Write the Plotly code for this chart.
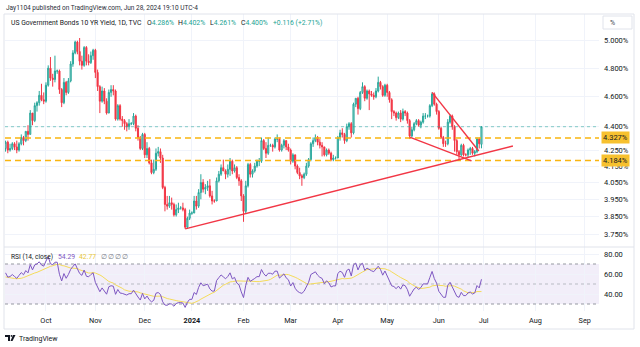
import math
import numpy as np
import pandas as pd
import plotly.graph_objects as go

# ---------------- data (daily OHLC, US10Y, TVC) ----------------
dates = pd.bdate_range("2023-09-06", "2024-06-28")

opens = [
    # Sep 2023
    4.26, 4.30, 4.25, 4.26, 4.29, 4.27, 4.25, 4.29, 4.33, 4.31, 4.37, 4.35, 4.49, 4.44, 4.54, 4.56, 4.61, 4.58,
    # Oct
    4.57, 4.68, 4.80, 4.73, 4.72, 4.78, 4.78, 4.65, 4.56, 4.70, 4.63, 4.71, 4.83, 4.91, 4.99, 4.92, 4.85, 4.82, 4.95, 4.85, 4.84, 4.89,
    # Nov
    4.93, 4.77, 4.67, 4.57, 4.64, 4.57, 4.49, 4.63, 4.65, 4.64, 4.45, 4.54, 4.45, 4.44, 4.42, 4.40, 4.42, 4.42, 4.47, 4.39, 4.33, 4.26,
    # Dec
    4.35, 4.22, 4.26, 4.17, 4.11, 4.13, 4.23, 4.24, 4.20, 4.02, 3.92, 3.91, 3.93, 3.92, 3.86, 3.89, 3.90, 3.90, 3.89, 3.79, 3.84,
    # Jan 2024
    3.87, 3.87, 3.94, 3.91, 3.99, 4.05, 4.01, 4.02, 4.03, 3.97, 3.94, 3.94, 4.06, 4.10, 4.14, 4.12, 4.10, 4.13, 4.18, 4.12, 4.14, 4.08, 4.06,
    # Feb
    3.97, 3.88, 4.03, 4.16, 4.10, 4.12, 4.15, 4.18, 4.18, 4.31, 4.26, 4.23, 4.28, 4.28, 4.27, 4.32, 4.32, 4.25, 4.28, 4.31, 4.27,
    # Mar
    4.25, 4.18, 4.22, 4.15, 4.11, 4.09, 4.08, 4.10, 4.15, 4.19, 4.29, 4.31, 4.33, 4.30, 4.28, 4.27, 4.22, 4.25, 4.23, 4.19, 4.20,
    # Apr
    4.20, 4.33, 4.36, 4.35, 4.31, 4.40, 4.42, 4.36, 4.55, 4.59, 4.52, 4.63, 4.67, 4.59, 4.64, 4.62, 4.61, 4.60, 4.64, 4.70, 4.67, 4.61,
    # May
    4.68, 4.63, 4.58, 4.50, 4.49, 4.46, 4.49, 4.45, 4.50, 4.49, 4.44, 4.34, 4.38, 4.42, 4.44, 4.41, 4.43, 4.47, 4.47, 4.47, 4.54, 4.62, 4.55,
    # Jun
    4.50, 4.39, 4.33, 4.29, 4.29, 4.43, 4.47, 4.40, 4.31, 4.24, 4.22, 4.28, 4.22, 4.22, 4.25, 4.26, 4.23, 4.24, 4.32, 4.286,
]
highs = [
    4.31, 4.31, 4.29, 4.30, 4.30, 4.31, 4.30, 4.35, 4.34, 4.37, 4.41, 4.51, 4.49, 4.56, 4.57, 4.64, 4.69, 4.63,
    4.70, 4.82, 4.88, 4.76, 4.89, 4.79, 4.79, 4.66, 4.73, 4.71, 4.73, 4.85, 4.93, 5.00, 5.00, 5.02, 4.89, 4.96, 4.96, 4.90, 4.92, 4.94,
    4.94, 4.79, 4.68, 4.67, 4.66, 4.59, 4.65, 4.68, 4.68, 4.65, 4.55, 4.55, 4.47, 4.45, 4.43, 4.45, 4.43, 4.49, 4.48, 4.41, 4.34, 4.36,
    4.36, 4.30, 4.27, 4.19, 4.19, 4.26, 4.27, 4.26, 4.22, 4.03, 3.97, 3.97, 3.96, 3.93, 3.92, 3.93, 3.91, 3.93, 3.90, 3.85, 3.89,
    3.88, 3.97, 3.97, 4.01, 4.10, 4.07, 4.04, 4.06, 4.07, 4.00, 3.95, 4.08, 4.12, 4.16, 4.19, 4.13, 4.16, 4.20, 4.19, 4.16, 4.15, 4.10, 4.07,
    3.98, 4.06, 4.17, 4.17, 4.13, 4.17, 4.19, 4.20, 4.33, 4.32, 4.30, 4.33, 4.29, 4.29, 4.33, 4.35, 4.33, 4.29, 4.32, 4.31, 4.29,
    4.26, 4.23, 4.22, 4.16, 4.14, 4.10, 4.11, 4.17, 4.20, 4.30, 4.33, 4.35, 4.34, 4.32, 4.30, 4.27, 4.26, 4.26, 4.24, 4.22, 4.21,
    4.34, 4.38, 4.39, 4.36, 4.42, 4.43, 4.43, 4.56, 4.59, 4.60, 4.64, 4.70, 4.68, 4.65, 4.65, 4.64, 4.63, 4.66, 4.74, 4.71, 4.68, 4.69,
    4.69, 4.64, 4.59, 4.51, 4.50, 4.50, 4.51, 4.52, 4.51, 4.50, 4.45, 4.40, 4.43, 4.45, 4.45, 4.44, 4.49, 4.49, 4.48, 4.55, 4.63, 4.63, 4.56,
    4.51, 4.40, 4.34, 4.31, 4.45, 4.48, 4.48, 4.41, 4.32, 4.25, 4.29, 4.29, 4.23, 4.26, 4.27, 4.27, 4.25, 4.33, 4.33, 4.402,
]
lows = [
    4.24, 4.23, 4.24, 4.25, 4.25, 4.23, 4.24, 4.28, 4.28, 4.30, 4.31, 4.35, 4.41, 4.43, 4.50, 4.54, 4.57, 4.55,
    4.56, 4.67, 4.71, 4.67, 4.70, 4.76, 4.62, 4.53, 4.55, 4.61, 4.62, 4.70, 4.81, 4.90, 4.90, 4.82, 4.79, 4.81, 4.82, 4.82, 4.83, 4.86,
    4.73, 4.64, 4.49, 4.56, 4.55, 4.48, 4.49, 4.60, 4.61, 4.44, 4.44, 4.44, 4.40, 4.38, 4.37, 4.38, 4.41, 4.41, 4.37, 4.31, 4.25, 4.25,
    4.20, 4.20, 4.16, 4.10, 4.10, 4.12, 4.21, 4.17, 4.01, 3.88, 3.89, 3.90, 3.89, 3.85, 3.85, 3.87, 3.89, 3.88, 3.78, 3.78, 3.83,
    3.86, 3.87, 3.89, 3.90, 3.95, 3.99, 3.98, 4.00, 3.96, 3.92, 3.93, 3.94, 4.05, 4.09, 4.12, 4.07, 4.08, 4.09, 4.10, 4.11, 4.07, 4.03, 3.94,
    3.82, 3.87, 4.02, 4.08, 4.08, 4.11, 4.14, 4.15, 4.17, 4.25, 4.20, 4.22, 4.27, 4.24, 4.26, 4.30, 4.24, 4.24, 4.26, 4.25, 4.24,
    4.16, 4.17, 4.13, 4.10, 4.07, 4.03, 4.07, 4.09, 4.14, 4.18, 4.27, 4.30, 4.28, 4.26, 4.21, 4.21, 4.21, 4.22, 4.18, 4.18, 4.19,
    4.20, 4.31, 4.33, 4.29, 4.30, 4.38, 4.33, 4.35, 4.53, 4.48, 4.51, 4.62, 4.57, 4.58, 4.51, 4.60, 4.58, 4.59, 4.63, 4.65, 4.60, 4.60,
    4.60, 4.56, 4.45, 4.47, 4.44, 4.45, 4.43, 4.44, 4.47, 4.42, 4.32, 4.33, 4.37, 4.41, 4.40, 4.39, 4.42, 4.45, 4.46, 4.46, 4.53, 4.54, 4.48,
    4.38, 4.32, 4.27, 4.27, 4.28, 4.42, 4.38, 4.24, 4.22, 4.19, 4.21, 4.21, 4.21, 4.20, 4.22, 4.22, 4.21, 4.23, 4.26, 4.261,
]
closes = [
    4.30, 4.25, 4.26, 4.29, 4.27, 4.25, 4.29, 4.33, 4.31, 4.37, 4.35, 4.49, 4.44, 4.54, 4.56, 4.61, 4.58, 4.57,
    4.68, 4.80, 4.73, 4.72, 4.78, 4.78, 4.65, 4.56, 4.70, 4.63, 4.71, 4.83, 4.91, 4.99, 4.92, 4.85, 4.82, 4.95, 4.85, 4.84, 4.89, 4.93,
    4.77, 4.67, 4.57, 4.64, 4.57, 4.49, 4.63, 4.65, 4.64, 4.45, 4.54, 4.45, 4.44, 4.42, 4.40, 4.42, 4.42, 4.47, 4.39, 4.33, 4.26, 4.35,
    4.22, 4.26, 4.17, 4.11, 4.13, 4.23, 4.24, 4.20, 4.02, 3.92, 3.91, 3.93, 3.92, 3.86, 3.89, 3.90, 3.90, 3.89, 3.79, 3.84, 3.87,
    3.87, 3.94, 3.91, 3.99, 4.05, 4.01, 4.02, 4.03, 3.97, 3.94, 3.94, 4.06, 4.10, 4.14, 4.12, 4.10, 4.13, 4.18, 4.12, 4.14, 4.08, 4.06, 3.97,
    3.88, 4.03, 4.16, 4.10, 4.12, 4.15, 4.18, 4.18, 4.31, 4.26, 4.23, 4.28, 4.28, 4.27, 4.32, 4.32, 4.25, 4.28, 4.31, 4.27, 4.25,
    4.18, 4.22, 4.15, 4.11, 4.09, 4.08, 4.10, 4.15, 4.19, 4.29, 4.31, 4.33, 4.30, 4.28, 4.27, 4.22, 4.25, 4.23, 4.19, 4.20, 4.20,
    4.33, 4.36, 4.35, 4.31, 4.40, 4.42, 4.36, 4.55, 4.59, 4.52, 4.63, 4.67, 4.59, 4.64, 4.62, 4.61, 4.60, 4.64, 4.70, 4.67, 4.61, 4.68,
    4.63, 4.58, 4.50, 4.49, 4.46, 4.49, 4.45, 4.50, 4.49, 4.44, 4.34, 4.38, 4.42, 4.44, 4.41, 4.43, 4.47, 4.47, 4.47, 4.54, 4.62, 4.55, 4.50,
    4.39, 4.33, 4.29, 4.29, 4.43, 4.47, 4.40, 4.31, 4.24, 4.22, 4.28, 4.22, 4.22, 4.25, 4.26, 4.23, 4.24, 4.32, 4.29, 4.400,
]
# earlier daily closes (Jul 3 - Sep 5 2023), only used to warm up the RSI(14)
prior_closes = [
    3.86, 3.86, 3.94, 4.03, 4.06, 4.00, 3.97, 3.86, 3.76, 3.83, 3.81, 3.79, 3.75, 3.85, 3.84, 3.87, 3.89, 3.87, 4.01, 3.96, 3.96,
    4.05, 4.08, 4.18, 4.04, 4.09, 4.02, 4.01, 4.09, 4.16, 4.19, 4.21, 4.26, 4.30, 4.25, 4.34, 4.33, 4.19, 4.24, 4.24, 4.21, 4.12, 4.12, 4.09,
    4.18, 4.18, 4.26,
]

# drawn levels / trend lines (date, yield)
level_lines = [4.327, 4.184]
last_price = 4.400
trend_lines = [
    (("2023-12-27", 3.78), ("2024-07-18", 4.276)),
    (("2024-05-15", 4.333), ("2024-06-21 14:00", 4.182)),
    (("2024-05-29", 4.630), ("2024-06-26 19:00", 4.244)),
]

price_ticks = [3.75, 3.85, 3.95, 4.05, 4.15, 4.25, 4.40, 4.60, 4.80, 5.00]
rsi_ticks = [40, 60, 80]
month_ticks = ["2023-10-02", "2023-11-01", "2023-12-01", "2024-01-01", "2024-02-01", "2024-03-01",
               "2024-04-01", "2024-05-01", "2024-06-03", "2024-07-01", "2024-08-01", "2024-09-02"]
month_labels = ["Oct", "Nov", "Dec", "<b>2024</b>", "Feb", "Mar", "Apr", "May", "Jun", "Jul", "Aug", "Sep"]

# legend texts
legend_title = "US Government Bonds 10 YR Yield, 1D, TVC"
legend_ohlc = [("O", "4.286%"), ("H", "4.402%"), ("L", "4.261%"), ("C", "4.400%")]
legend_change = "+0.116 (+2.71%)"
rsi_legend = ("RSI (14, close)", "54.29", "42.77")

n = min(len(dates), len(opens), len(highs), len(lows), len(closes))
dates = dates[:n]

# ---------------- RSI(14) + its 14-SMA ----------------
allc = np.array(prior_closes + closes[:n], dtype=float)
d = np.diff(allc)
g = np.where(d > 0, d, 0.0)
l_ = np.where(d < 0, -d, 0.0)
per = 14
ag = np.full(len(d), np.nan)
al = np.full(len(d), np.nan)
ag[per - 1] = g[:per].mean()
al[per - 1] = l_[:per].mean()
for i in range(per, len(d)):
    ag[i] = (ag[i - 1] * (per - 1) + g[i]) / per
    al[i] = (al[i - 1] * (per - 1) + l_[i]) / per
rsi = 100 - 100 / (1 + ag / al)
rsi = np.concatenate([[np.nan], rsi])
rsi_ma = pd.Series(rsi).rolling(per).mean().values
k = len(prior_closes)
rsi_vis = rsi[k:k + n]
rsi_ma_vis = rsi_ma[k:k + n]

# ---------------- layout geometry (pixels) ----------------
W, H = 640, 347
ML, MR, MT, MB = 5, 41, 14, 36
PW, PH = W - ML - MR, H - MT - MB
SPLIT_PX = 247


def xp(x):
    return (x - ML) / PW


def yp(y):
    return (H - MB - y) / PH


split = yp(SPLIT_PX)
x_start, x_end = "2023-09-05 18:00", "2024-09-10 08:24"
FONT = "Roboto, Arial, sans-serif"
UP, DOWN = "#26a69a", "#f23645"

fig = go.Figure()

fig.add_trace(go.Candlestick(
    x=dates, open=opens[:n], high=highs[:n], low=lows[:n], close=closes[:n],
    increasing=dict(line=dict(color=UP, width=1), fillcolor="rgba(38,166,154,0.35)"),
    decreasing=dict(line=dict(color=DOWN, width=1), fillcolor=DOWN),
    whiskerwidth=0, showlegend=False, hoverinfo="skip", xaxis="x", yaxis="y"))

# current price dotted line
fig.add_trace(go.Scatter(x=[x_start, x_end], y=[last_price, last_price], mode="lines",
                         line=dict(color="rgba(38,166,154,0.55)", width=1, dash="dot"),
                         showlegend=False, hoverinfo="skip", xaxis="x", yaxis="y"))
for lv in level_lines:
    fig.add_trace(go.Scatter(x=[x_start, x_end], y=[lv, lv], mode="lines",
                             line=dict(color="#f9b50f", width=1.5, dash="6px,4px"),
                             showlegend=False, hoverinfo="skip", xaxis="x", yaxis="y"))
for (a, b) in trend_lines:
    fig.add_trace(go.Scatter(x=[a[0], b[0]], y=[a[1], b[1]], mode="lines",
                             line=dict(color=DOWN, width=1.4),
                             showlegend=False, hoverinfo="skip", xaxis="x", yaxis="y"))

# RSI pane
for lvl, dash, col in [(70, "3px,3px", "#9598a1"), (50, "3px,3px", "#b8bbc3"), (30, "3px,3px", "#9598a1")]:
    fig.add_trace(go.Scatter(x=[x_start, x_end], y=[lvl, lvl], mode="lines",
                             line=dict(color=col, width=1, dash=dash),
                             showlegend=False, hoverinfo="skip", xaxis="x", yaxis="y2"))
fig.add_trace(go.Scatter(x=dates, y=rsi_ma_vis, mode="lines", line=dict(color="#f5dc5a", width=1),
                         showlegend=False, hoverinfo="skip", xaxis="x", yaxis="y2"))
fig.add_trace(go.Scatter(x=dates, y=rsi_vis, mode="lines", line=dict(color="#7e57c2", width=1),
                         showlegend=False, hoverinfo="skip", xaxis="x", yaxis="y2"))

shapes = [
    dict(type="rect", xref="x", yref="y2", x0=x_start, x1=x_end, y0=30, y1=70,
         fillcolor="rgba(126,87,194,0.10)", line=dict(width=0), layer="below"),
]
BORDER = "#e0e3eb"
for (x0, y0, x1, y1) in [(4, 14, 634, 14), (634, 14, 634, 329), (4, 329, 634, 329), (4, 14, 4, 329),
                         (4, SPLIT_PX, 634, SPLIT_PX)]:
    shapes.append(dict(type="line", xref="paper", yref="paper", x0=xp(x0), x1=xp(x1), y0=yp(y0), y1=yp(y1),
                       line=dict(color=BORDER, width=1)))
# "%" box
shapes.append(dict(type="rect", xref="paper", yref="paper", x0=xp(603), x1=xp(632), y0=yp(16), y1=yp(29),
                   line=dict(color=BORDER, width=1), fillcolor="white"))
# small TradingView logo
shapes.append(dict(type="path", xref="paper", yref="paper",
                   path="M {} {} L {} {} L {} {} L {} {} L {} {} L {} {} Z".format(
                       xp(5), yp(335), xp(10), yp(335), xp(10), yp(341), xp(8), yp(341), xp(8), yp(337), xp(5), yp(337)),
                   fillcolor="#131722", line=dict(width=0)))
shapes.append(dict(type="circle", xref="paper", yref="paper", x0=xp(10.6), x1=xp(12.4), y0=yp(335), y1=yp(336.8),
                   fillcolor="#131722", line=dict(width=0)))
shapes.append(dict(type="path", xref="paper", yref="paper",
                   path="M {} {} L {} {} L {} {} L {} {} Z".format(
                       xp(13), yp(335), xp(15.5), yp(335), xp(12.5), yp(341), xp(10.5), yp(341)),
                   fillcolor="#131722", line=dict(width=0)))


def ann(text, x, y, size=7.0, color="#131722", xanchor="left", **kw):
    return dict(text=text, xref="paper", yref="paper", x=xp(x), y=yp(y), xanchor=xanchor, yanchor="middle",
                showarrow=False, font=dict(family=FONT, size=size, color=color), **kw)


TEAL = "#22a394"
annotations = [
    ann("Jay1104 published on TradingView.com, Jun 28, 2024 19:10 UTC-4", 4, 7.5, size=6.5, color="#2a2e39"),
    ann(legend_title, 9, 22.5, size=6.8),
    ann("%", 608, 22.5, size=7, color="#434651"),
    ann(legend_change, 271, 22.5, size=6.8, color=TEAL),
    ann(rsi_legend[0], 9, 256.5, size=6.6),
    ann(rsi_legend[1], 56, 256.5, size=6.8, color="#7e57c2"),
    ann(rsi_legend[2], 77, 256.5, size=6.8, color="#e8c83a"),
    ann("TradingView", 17, 338.5, size=7.0, color="#131722"),
]
for (lab, val), xx in zip(legend_ohlc, [145, 176, 208, 239]):
    annotations.append(ann(f"{lab}<span style='color:{TEAL}'>{val}</span>", xx, 22.5, size=6.9))
for xx in [99, 106, 113, 120]:
    annotations.append(ann("∅", xx, 256.5, size=6.8, color="#787b86"))
for lv in level_lines:
    annotations.append(dict(text=f"{lv:.3f}%", xref="paper", yref="y", x=xp(601), y=math.log10(lv),
                            xanchor="left", yanchor="middle", showarrow=False, bgcolor="#f7c12f",
                            borderpad=1, font=dict(family=FONT, size=7.5, color="#131722")))

fig.update_layout(
    width=W, height=H, margin=dict(l=ML, r=MR, t=MT, b=MB),
    paper_bgcolor="white", plot_bgcolor="white", showlegend=False,
    font=dict(family=FONT, size=7.5, color="#131722"),
    xaxis=dict(domain=[0, 1], anchor="y2", type="date", range=[x_start, x_end],
               rangebreaks=[dict(bounds=["sat", "mon"])], rangeslider=dict(visible=False),
               tickvals=month_ticks, ticktext=month_labels, ticks="", ticklen=0, ticklabelstandoff=4,
               showline=False, zeroline=False,
               showgrid=True, gridcolor="#f0f3fa", gridwidth=1, tickfont=dict(size=7.3, color="#131722")),
    yaxis=dict(domain=[split, 1], anchor="x", type="log",
               range=[math.log10(3.6797), math.log10(5.2024)], side="right",
               tickvals=price_ticks, ticktext=[f"{v:.3f}%" for v in price_ticks], ticks="", ticklen=0,
               ticklabelstandoff=4,
               showline=False, zeroline=False, showgrid=True, gridcolor="#f0f3fa",
               tickfont=dict(size=7.5, color="#131722")),
    yaxis2=dict(domain=[0, split], anchor="x", range=[23, 87], side="right",
                tickvals=rsi_ticks, ticktext=[f"{v:.2f}" for v in rsi_ticks], ticks="", ticklen=0,
                ticklabelstandoff=4,
                showline=False, zeroline=False, showgrid=True, gridcolor="#f0f3fa",
                tickfont=dict(size=7.5, color="#131722")),
    shapes=shapes, annotations=annotations,
)

fig.write_html("out.html")
